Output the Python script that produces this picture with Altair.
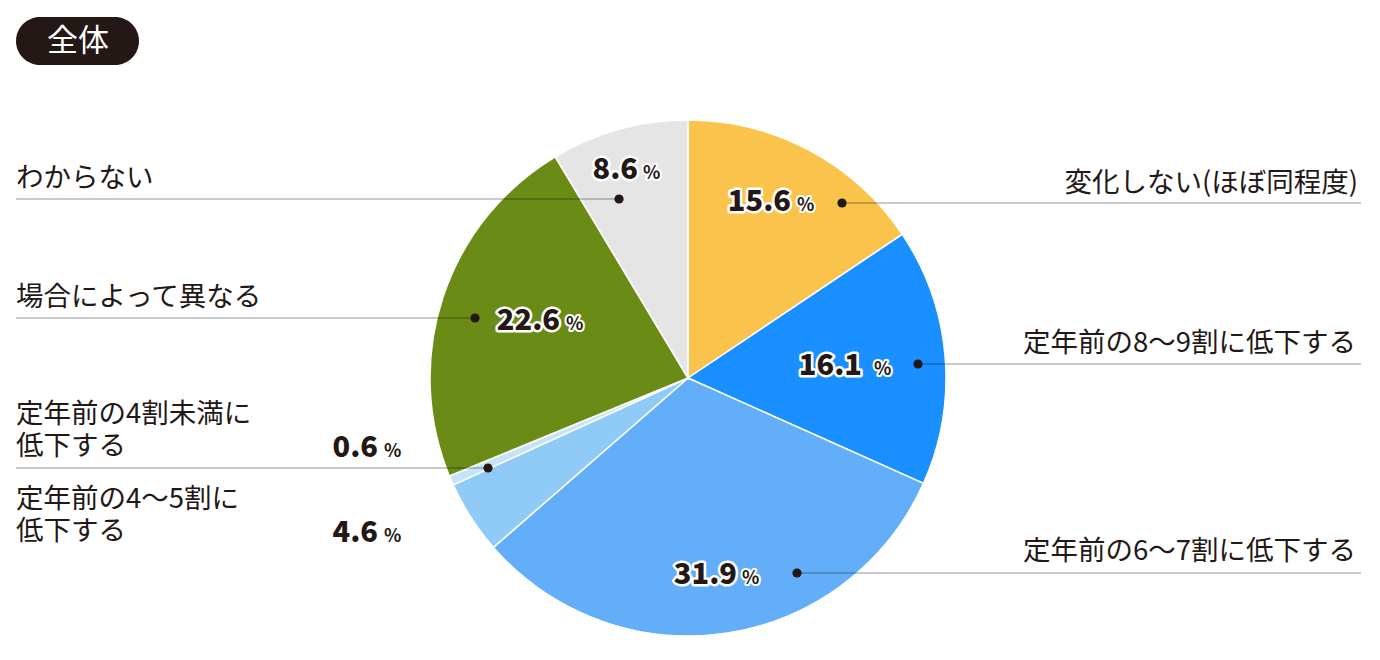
import altair as alt
import pandas as pd

# ---------------- data ----------------
categories = [
    "変化しない(ほぼ同程度)",
    "定年前の8〜9割に低下する",
    "定年前の6〜7割に低下する",
    "定年前の4〜5割に\n低下する",
    "定年前の4割未満に\n低下する",
    "場合によって異なる",
    "わからない",
]
values = [15.6, 16.1, 31.9, 4.6, 0.6, 22.6, 8.6]
colors = ["#FAC34C", "#1A8FFF", "#63AEF9", "#90CBF8", "#C6E3F8", "#6A8C16", "#E5E5E5"]
badge_text = "全体"
unit_text = "%"

# ---------------- layout (page pixels) ----------------
W, H = 1364, 644
PIE_CX, PIE_CY, PIE_R = 688, 378, 258
LABEL_SIZE = 27.5
label_x = [1358, 1356, 1356, 16, 16, 16, 16]
label_base = [192, 352, 560, 508, 423, 306, 187]   # baseline of first line
label_align = ["right", "right", "right", "left", "left", "left", "left"]
line_gap = 32
num_right = [791, 862, 737, 378, 378, 560, 638]
num_base = [211, 375, 584, 542, 457, 330, 179]
unit_gap = [6, 12, 5, 6, 6, 6, 5]
dot_x = [842, 918, 797, None, 488, 475, 619]
dot_y = [203, 364, 573, None, 468, 318, 199]
line_x1 = [842, 918, 797, None, 16, 16, 16]
line_x2 = [1361, 1361, 1361, None, 488, 475, 619]

TEXT = "#231815"
FONT = "Noto Sans CJK JP"

X = alt.Scale(domain=[8, 8 + W], range=[0, W], nice=False, zero=False)
Y = alt.Scale(domain=[8, 8 + H], range=[0, H], nice=False, zero=False)

# ---------------- tables ----------------
pie_df = pd.DataFrame({
    "cat": categories,
    "value": values,
    "order": list(range(len(values))),
})

pct_df = pd.DataFrame({
    "value": values,
    "nx": num_right,
    "ny": num_base,
    "ux": [r + g for r, g in zip(num_right, unit_gap)],
    "unit": [unit_text] * len(values),
})

lab_df = pd.DataFrame({
    "text": categories,
    "x": label_x,
    "y": label_base,
    "align": label_align,
})

lines_df = pd.DataFrame({"x1": line_x1, "x2": line_x2, "y": dot_y}).dropna()
dots_df = pd.DataFrame({"x": dot_x, "y": dot_y}).dropna()

badge_df = pd.DataFrame({"t": [badge_text]})

# ---------------- marks ----------------
pie = alt.Chart(pie_df).mark_arc(
    outerRadius=PIE_R, stroke="white", strokeWidth=1.5
).encode(
    theta=alt.Theta("value:Q", stack=True),
    order=alt.Order("order:Q"),
    color=alt.Color("cat:N", scale=alt.Scale(domain=categories, range=colors), legend=None),
    x=alt.value(PIE_CX - 8),
    y=alt.value(PIE_CY - 8),
)

leaders = alt.Chart(lines_df).mark_rule(color="#000000", opacity=0.42, strokeWidth=1).encode(
    x=alt.X("x1:Q", scale=X, axis=None),
    x2="x2:Q",
    y=alt.Y("y:Q", scale=Y, axis=None),
)

dots = alt.Chart(dots_df).mark_circle(size=85, color=TEXT, opacity=1).encode(
    x=alt.X("x:Q", scale=X, axis=None),
    y=alt.Y("y:Q", scale=Y, axis=None),
)

def num_layer(halo):
    kw = dict(font=FONT, fontSize=29, fontWeight=900, align="right", baseline="alphabetic")
    if halo:
        kw.update(stroke="white", strokeWidth=5, strokeJoin="round", fill="white")
    else:
        kw.update(fill=TEXT)
    return alt.Chart(pct_df).mark_text(**kw).encode(
        x=alt.X("nx:Q", scale=X, axis=None),
        y=alt.Y("ny:Q", scale=Y, axis=None),
        text=alt.Text("value:Q", format=".1f"),
    )

def unit_layer(halo):
    kw = dict(font=FONT, fontSize=18, fontWeight="bold", align="left", baseline="alphabetic")
    if halo:
        kw.update(stroke="white", strokeWidth=4, strokeJoin="round", fill="white")
    else:
        kw.update(fill=TEXT)
    return alt.Chart(pct_df).mark_text(**kw).encode(
        x=alt.X("ux:Q", scale=X, axis=None),
        y=alt.Y("ny:Q", scale=Y, axis=None),
        text="unit:N",
    )

def label_layer(al):
    return alt.Chart(lab_df).transform_filter(alt.datum.align == al).mark_text(
        font=FONT, fontSize=LABEL_SIZE, color=TEXT, align=al, baseline="alphabetic",
        lineBreak="\n", lineHeight=line_gap,
    ).encode(
        x=alt.X("x:Q", scale=X, axis=None),
        y=alt.Y("y:Q", scale=Y, axis=None),
        text="text:N",
    )

badge = alt.Chart(badge_df).mark_rect(color=TEXT, cornerRadius=24).encode(
    x=alt.value(16 - 8), x2=alt.value(139 - 8),
    y=alt.value(17 - 8), y2=alt.value(65 - 8),
)
badge_label = alt.Chart(badge_df).mark_text(
    font=FONT, fontSize=31, color="white", align="center", baseline="middle"
).encode(
    x=alt.value(78 - 8), y=alt.value(42 - 8), text="t:N",
)

chart = alt.layer(
    pie, leaders, dots,
    num_layer(True), unit_layer(True), num_layer(False), unit_layer(False),
    label_layer("left"), label_layer("right"), badge, badge_label,
).properties(
    width=W, height=H, padding=0,
    autosize=alt.AutoSizeParams(type="none"),
    background="white",
).configure_view(strokeWidth=0)

chart.save("out.html", embed_options={"renderer": "svg", "actions": False})
